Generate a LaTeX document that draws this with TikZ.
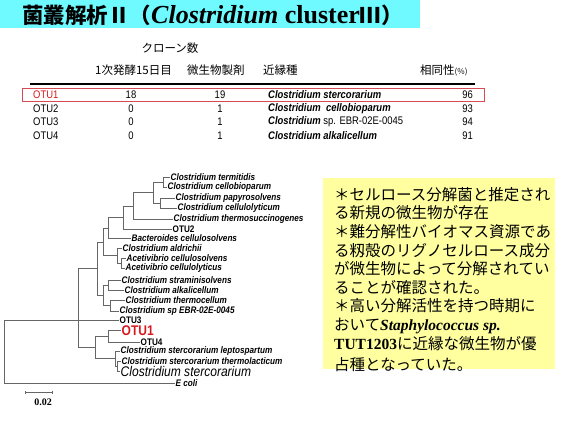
\documentclass[tikz,border=0pt]{standalone}
\usepackage{fontspec}
\setmainfont{Liberation Serif}
\setsansfont{Liberation Sans}
\newfontfamily\jpfont{Noto Sans CJK JP}
\newfontfamily\narrowsans{Liberation Sans}[FakeStretch=0.86]
\usepackage{tikz}
\usetikzlibrary{arrows.meta,positioning,calc}
\definecolor{titlecyan}{RGB}{110,250,255}
\definecolor{notebg}{RGB}{255,255,160}
\definecolor{otured}{RGB}{215,25,30}
\definecolor{rowbox}{RGB}{215,75,85}

\begin{document}
\begin{tikzpicture}[x=1pt,y=-1pt,
  leaf/.style={anchor=west, inner sep=0.5pt, font=\narrowsans\bfseries\itshape\fontsize{9.5}{10}\selectfont},
  otulbl/.style={anchor=west, inner sep=0.5pt, font=\narrowsans\bfseries\fontsize{9.5}{10}\selectfont},
  branch/.style={black!60, line width=0.7pt},
  cell/.style={font=\narrowsans\fontsize{11}{12}\selectfont, inner sep=0pt},
  head/.style={font=\jpfont\fontsize{11.5}{12}\selectfont, inner sep=0pt, anchor=west}]
\useasboundingbox (0,0) rectangle (572,429);
\fill[titlecyan] (0,0) rectangle (420,28);
\node[anchor=west, inner sep=0pt] (title) at (22,15) {\jpfont\bfseries\fontsize{21.5}{24}\selectfont 菌叢解析Ⅱ（{\rmfamily\bfseries\fontsize{26}{26}\selectfont\textit{Clostridium} cluster}Ⅲ）};

\node[head, anchor=center] (clones) at (170,48) {クローン数};
\node[head] (hday) at (95,70) {1次発酵15日目};
\node[head] (hprep) at (187,70) {微生物製剤};
\node[head] (hsp) at (263,70) {近縁種};
\node[head] (hid) at (420,70) {相同性{\fontsize{8}{8}\selectfont(\%)}};
\draw[line width=2pt] (30,84) -- (475,84);
\draw[rowbox, line width=0.8pt] (22,88.5) rectangle (484,101);
\foreach \o/\a/\b/\s/\h [count=\i] in {
  {\color{otured}OTU1}/18/19/{\itshape\bfseries Clostridium stercorarium}/96,
  OTU2/0/1/{\itshape\bfseries Clostridium\ \ cellobioparum}/93,
  OTU3/0/1/{{\itshape\bfseries Clostridium} sp. EBR-02E-0045}/94,
  OTU4/0/1/{\itshape\bfseries Clostridium alkalicellum}/91} {
  \pgfmathsetmacro\ry{95+13.5*(\i-1)}
  \node[cell, anchor=west] (otu\i) at (33,\ry) {\o};
  \node[cell] (day\i) at (131,\ry) {\a};
  \node[cell] (prep\i) at (220,\ry) {\b};
  \node[cell, anchor=west] (sp\i) at (268,\ry) {\s};
  \node[cell, anchor=east] (id\i) at (473,\ry) {\h};
}

\foreach \n/\x/\y/\t in {term/170/177/Clostridium termitidis, cello/167/187/Clostridium cellobioparum,
  papy/175/198/Clostridium papyrosolvens, celly/177/208/Clostridium cellulolyticum,
  tsucc/173/219/Clostridium thermosuccinogenes, bact/131/238/Bacteroides cellulosolvens,
  aldr/122/248/Clostridium aldrichii, acsolv/126/258/Acetivibrio cellulosolvens,
  aclyt/125/268/Acetivibrio cellulolyticus, stram/121/280/Clostridium straminisolvens,
  alka/124/290/Clostridium alkalicellum, tcell/125/300/Clostridium thermocellum,
  sp45/119/311/Clostridium sp EBR-02E-0045, lepto/120/351/Clostridium stercorarium leptospartum,
  tlact/121/361/Clostridium stercorarium thermolacticum, ecoli/175/383.5/E coli}
  \node[leaf] (\n) at (\x,\y) {\t};
\node[otulbl] (treeotu2) at (172,229) {OTU2};
\node[otulbl] (treeotu3) at (119,320) {OTU3};
\node[otulbl] (treeotu4) at (140,342) {OTU4};
\node[anchor=west, inner sep=0.5pt, text=otured, font=\narrowsans\bfseries\fontsize{14}{14}\selectfont] (treeotu1) at (121,330.5) {OTU1};
\node[anchor=west, inner sep=0.5pt, font=\narrowsans\itshape\fontsize{14}{14}\selectfont] (sterc) at (120,371) {Clostridium stercorarium};

\foreach \n/\x/\y in {nA/163/182, nB/160/203, nC/153/192.5, nD/133/206, nE/123/217.5, nF/108/228,
  nI/121/263, nG/117/255.5, nS/103/242, nJ/108/285, nK/110/305.5, nL/103/295, nM/97/268,
  nQ/108/336, nRi/117/366, nR/115/358.5, nP/95/347, nN/78/320, root/4/350}
  \coordinate (\n) at (\x,\y);
\foreach \p/\c in {nA/term, nA/cello, nB/papy, nB/celly, nD/tsucc, nE/treeotu2, nF/bact,
  nG/aldr, nI/acsolv, nI/aclyt, nJ/stram, nJ/alka, nK/tcell, nK/sp45, nN/treeotu3,
  nQ/treeotu1, nQ/treeotu4, nR/lepto, nRi/tlact, nRi/sterc, root/ecoli}
  \draw[branch] (\p) |- (\c.west);
\foreach \p/\c in {nC/nA, nC/nB, nD/nC, nE/nD, nF/nE, nG/nI, nS/nF, nS/nG, nL/nJ, nL/nK,
  nM/nS, nM/nL, nN/nM, nR/nRi, nP/nQ, nP/nR, nN/nP, root/nN}
  \draw[branch] (\p) |- (\c);

\coordinate (sbl) at (25,392);
\coordinate (sbr) at (52,392);
\draw[black!60, {Bar[width=3pt]}-{Bar[width=3pt]}] (sbl) -- (sbr);
\node[inner sep=0pt, font=\rmfamily\bfseries\fontsize{10}{10}\selectfont] (sblbl) at (43,402) {0.02};

\fill[notebg] (323,178) rectangle (555,369);
\node[anchor=north west, align=left, inner sep=0pt, font=\jpfont\fontsize{15.5}{18.6}\selectfont] (note) at (334,187) {＊セルロース分解菌と推定され\\る新規の微生物が存在\\＊難分解性バイオマス資源であ\\る籾殻のリグノセルロース成分\\が微生物によって分解されてい\\ることが確認された。\\＊高い分解活性を持つ時期に\\おいて{\rmfamily\bfseries\itshape Staphylococcus sp.}\\{\rmfamily\bfseries TUT1203}に近縁な微生物が優\\[3pt]占種となっていた。};
\end{tikzpicture}
\end{document}
